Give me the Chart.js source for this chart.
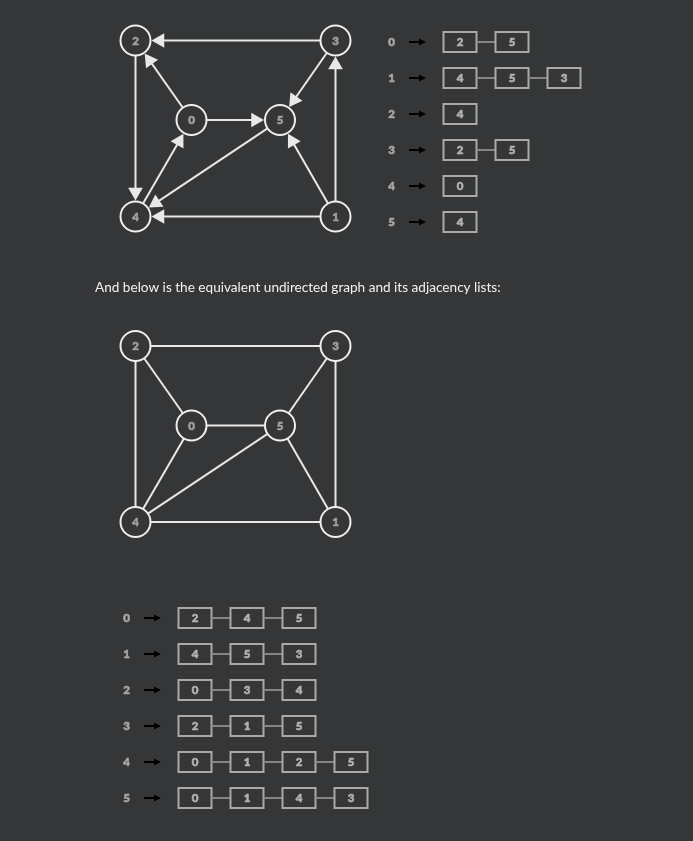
<!DOCTYPE html>
<html>
<head>
<meta charset="utf-8">
<script src="https://cdn.jsdelivr.net/npm/chart.js@4.4.1/dist/chart.umd.min.js"></script>
<style>
  body { margin: 0; background: #353638; }
  #wrap { width: 693px; height: 841px; }
</style>
</head>
<body>
<div id="wrap"><canvas id="chart" width="693" height="841"></canvas></div>
<script>
// graph data
const nodeIds = [0, 1, 2, 3, 4, 5]
const directedEdges = [[3, 2], [0, 2], [2, 4], [4, 0], [0, 5], [3, 5], [5, 4], [1, 5], [1, 3], [1, 4]]
const undirectedEdges = [[2, 3], [2, 0], [2, 4], [0, 4], [0, 5], [3, 5], [5, 4], [5, 1], [3, 1], [4, 1]]
const directedLists = [[2, 5], [4, 5, 3], [4], [2, 5], [0], [4]]
const undirectedLists = [[2, 4, 5], [4, 5, 3], [0, 3, 4], [2, 1, 5], [0, 1, 2, 5], [0, 1, 4, 3]]
const caption = 'And below is the equivalent undirected graph and its adjacency lists:'

// layout (page pixels, axes run 0..693 / 0..841)
const nodeX = [191.5, 335.5, 135.5, 335.5, 135.5, 280]
const nodeY = [120, 216.5, 40.5, 40.5, 216.5, 120]
const lowerShift = 305.5
const R = 15
const bg = '#353638'
const edgeColor = '#e8e8e6'
const digitFont = '900 11.5px Lato'

function edgeSets (edges, shift, directed) {
  const out = []
  edges.forEach(([a, b]) => {
    const x1 = nodeX[a], y1 = nodeY[a] + shift
    const x2 = nodeX[b], y2 = nodeY[b] + shift
    const len = Math.hypot(x2 - x1, y2 - y1)
    const ux = (x2 - x1) / len, uy = (y2 - y1) / len
    const gap = directed ? R + 10 : R
    out.push({
      type: 'line',
      data: [{ x: x1 + ux * R, y: y1 + uy * R }, { x: x2 - ux * gap, y: y2 - uy * gap }],
      borderColor: edgeColor,
      borderWidth: 2,
      pointRadius: 0,
      order: 2
    })
    if (directed) {
      const back = R + 1 + 8.5
      out.push({
        type: 'scatter',
        data: [{ x: x2 - ux * back, y: y2 - uy * back }],
        pointStyle: 'triangle',
        pointRadius: 8.5,
        pointRotation: Math.atan2(ux, -uy) * 180 / Math.PI,
        backgroundColor: edgeColor,
        borderWidth: 0,
        order: 1
      })
    }
  })
  return out
}

function nodeSet (shift) {
  return {
    type: 'scatter',
    data: nodeIds.map((id) => ({ x: nodeX[id], y: nodeY[id] + shift })),
    pointRadius: R,
    backgroundColor: bg,
    borderColor: '#eeeeec',
    borderWidth: 2,
    order: 0
  }
}

const listLayouts = [
  { lists: directedLists, labelX: 391.5, arrowX: 409, boxX: 443.5, rowY: 42 },
  { lists: undirectedLists, labelX: 126.5, arrowX: 144, boxX: 178.5, rowY: 618 }
]

// heavier digits: fill plus a thin stroke of the same colour
function digit (ctx, txt, px, py, color) {
  ctx.font = digitFont
  ctx.fillStyle = color
  ctx.strokeStyle = color
  ctx.lineWidth = 0.6
  ctx.fillText(txt, px, py)
  ctx.strokeText(txt, px, py)
}

const drawExtras = {
  id: 'drawExtras',
  afterDatasetsDraw (chart) {
    const { ctx, scales: { x, y } } = chart
    ctx.save()
    ctx.textAlign = 'center'
    ctx.textBaseline = 'middle'

    // node labels
    ;[0, lowerShift].forEach((shift) => {
      nodeIds.forEach((id) => {
        digit(ctx, String(id), x.getPixelForValue(nodeX[id]), y.getPixelForValue(nodeY[id] + shift) + 0.5, '#a19f99')
      })
    })

    // caption
    ctx.font = '13.6px Lato'
    ctx.fillStyle = '#f2f2f2'
    ctx.textAlign = 'left'
    ctx.fillText(caption, x.getPixelForValue(95), y.getPixelForValue(288))

    // adjacency lists
    listLayouts.forEach((l) => {
      l.lists.forEach((row, i) => {
        const cy = y.getPixelForValue(l.rowY + i * 36)
        ctx.textAlign = 'center'
        digit(ctx, String(i), x.getPixelForValue(l.labelX), cy + 0.5, '#a8a6a0')

        // row arrow
        const ax = x.getPixelForValue(l.arrowX)
        ctx.strokeStyle = '#000'
        ctx.fillStyle = '#000'
        ctx.lineWidth = 2
        ctx.beginPath()
        ctx.moveTo(ax, cy)
        ctx.lineTo(ax + 12, cy)
        ctx.stroke()
        ctx.beginPath()
        ctx.moveTo(ax + 17, cy)
        ctx.lineTo(ax + 10, cy - 3.5)
        ctx.lineTo(ax + 10, cy + 3.5)
        ctx.closePath()
        ctx.fill()

        row.forEach((v, j) => {
          const bx = x.getPixelForValue(l.boxX + j * 52)
          if (j > 0) {
            ctx.strokeStyle = '#878581'
            ctx.lineWidth = 2
            ctx.beginPath()
            ctx.moveTo(bx - 19, cy)
            ctx.lineTo(bx, cy)
            ctx.stroke()
          }
          ctx.strokeStyle = '#a9a9a7'
          ctx.lineWidth = 2
          ctx.strokeRect(bx, cy - 10, 33, 20)
          digit(ctx, String(v), bx + 16.5, cy + 0.5, '#b3b1ab')
        })
      })
    })
    ctx.restore()
  }
}

function draw () {
  new Chart(document.getElementById('chart'), {
    type: 'scatter',
    data: {
      datasets: [
        nodeSet(0),
        nodeSet(lowerShift),
        ...edgeSets(directedEdges, 0, true),
        ...edgeSets(undirectedEdges, lowerShift, false)
      ]
    },
    options: {
      responsive: false,
      animation: false,
      events: [],
      layout: { padding: 0, autoPadding: false },
      plugins: { legend: { display: false }, tooltip: { enabled: false } },
      scales: {
        x: { type: 'linear', min: 0, max: 693, display: false },
        y: { type: 'linear', min: 0, max: 841, reverse: true, display: false }
      }
    },
    plugins: [drawExtras]
  })
}

// make sure the faces are ready before the canvas text is drawn
Promise.all([document.fonts.load(digitFont, '0123'), document.fonts.load('13.6px Lato', 'A')])
  .then(draw, draw)
</script>
</body>
</html>
